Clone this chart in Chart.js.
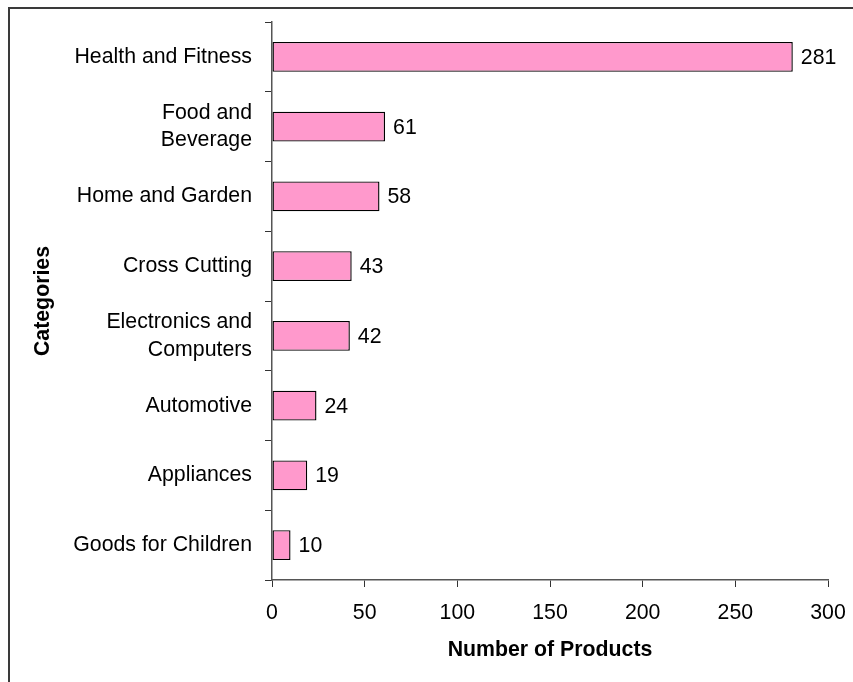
<!doctype html>
<html lang="en">
  <head>
    <meta charset="utf-8">
    <title>Number of Products by Category</title>
    <style>
      html, body { margin: 0; padding: 0; background: #fff; }
      #wrap { position: relative; width: 853px; height: 682px; }
      #frame {
        position: absolute; left: 8px; top: 7px; right: -10px; bottom: -10px;
        border-left: 2px solid #3a3a3a; border-top: 2px solid #3a3a3a;
        pointer-events: none;
      }
    </style>
  </head>
  <body>
    <div id="wrap">
      <canvas id="myChart" width="853" height="682"></canvas>
      <div id="frame"></div>
    </div>

    <script src="https://cdn.jsdelivr.net/npm/chart.js"></script>
    <script>
      // categories, top to bottom
      const categories = [
        'Health and Fitness',
        ['Food and', 'Beverage'],
        'Home and Garden',
        'Cross Cutting',
        ['Electronics and', 'Computers'],
        'Automotive',
        'Appliances',
        'Goods for Children'
      ];
      const productCounts = [281, 61, 58, 43, 42, 24, 19, 10];
      const xTicks = [0, 50, 100, 150, 200, 250, 300];

      const FONT = "'Liberation Sans', Arial, sans-serif";
      const SIZE = 21.3;

      // write the value just right of each bar
      const valueLabels = {
        id: 'valueLabels',
        afterDatasetsDraw(chart) {
          const ctx = chart.ctx;
          const meta = chart.getDatasetMeta(0);
          ctx.save();
          ctx.font = SIZE + 'px ' + FONT;
          ctx.fillStyle = '#000';
          ctx.textAlign = 'left';
          ctx.textBaseline = 'middle';
          meta.data.forEach((bar, i) => {
            ctx.fillText(String(productCounts[i]), bar.x + 8, bar.y + 1);
          });
          ctx.restore();
        }
      };

      const ctx = document.getElementById('myChart').getContext('2d');
      new Chart(ctx, {
        type: 'bar',
        data: {
          labels: categories,
          datasets: [{
            data: productCounts,
            backgroundColor: '#FF99CC',
            borderColor: '#000',
            borderWidth: 1.4,
            borderSkipped: false,
            barPercentage: 0.43,
            categoryPercentage: 1
          }]
        },
        options: {
          indexAxis: 'y',
          responsive: false,
          animation: false,
          layout: { padding: { top: 22, right: 25, left: 0, bottom: 0 } },
          plugins: {
            legend: { display: false },
            tooltip: { enabled: false }
          },
          scales: {
            x: {
              min: 0,
              max: 300,
              afterBuildTicks(scale) {
                scale.ticks = xTicks.map(v => ({ value: v }));
              },
              afterFit(scale) {
                scale.height = 102;
                scale.paddingLeft = 0;
                scale.paddingRight = 0;
              },
              border: { color: '#555', width: 1.5 },
              grid: { drawOnChartArea: false, tickLength: 7, color: '#333' },
              ticks: {
                color: '#000',
                padding: 13,
                font: { family: FONT, size: SIZE }
              },
              title: {
                display: true,
                text: 'Number of Products',
                color: '#000',
                padding: { top: 0, bottom: 19 },
                font: { family: FONT, size: SIZE, weight: 'bold' }
              }
            },
            y: {
              afterFit(scale) {
                scale.width = 272;
                scale.paddingTop = 0;
                scale.paddingBottom = 0;
              },
              border: { color: '#555', width: 1.5 },
              grid: { drawOnChartArea: false, tickLength: 7, color: '#333', offset: true },
              ticks: {
                color: '#000',
                padding: 13,
                font: { family: FONT, size: SIZE, lineHeight: 1.3 }
              },
              title: {
                display: true,
                text: 'Categories',
                color: '#000',
                padding: { top: 30, bottom: 0 },
                font: { family: FONT, size: SIZE, weight: 'bold' }
              }
            }
          }
        },
        plugins: [valueLabels]
      });
    </script>
  </body>
</html>
